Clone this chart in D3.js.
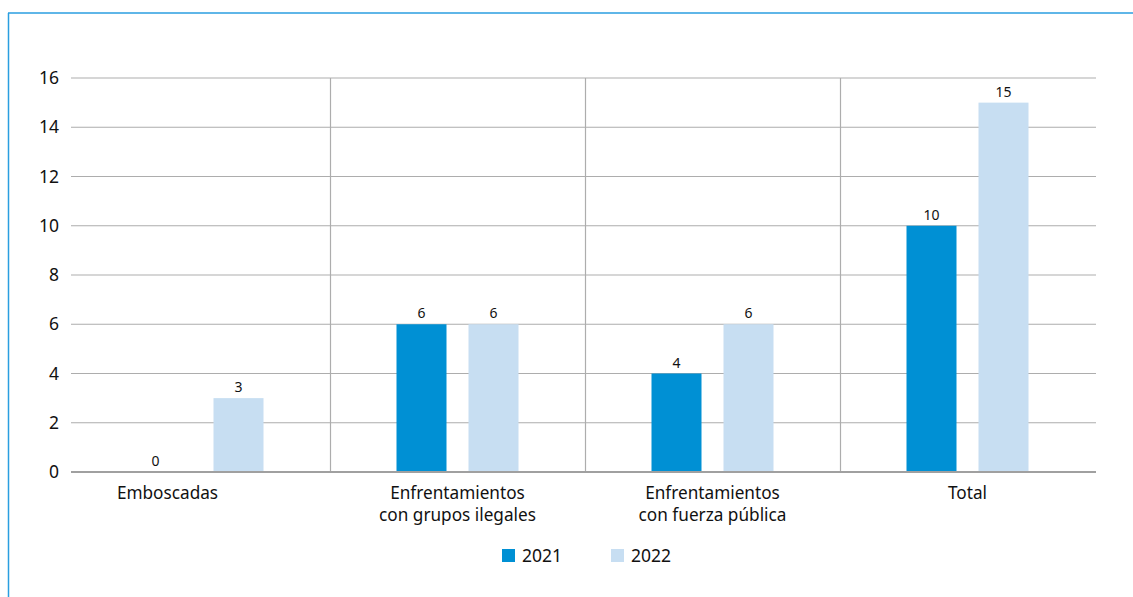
<!DOCTYPE html>
<html><head><meta charset="utf-8">
<script src="https://cdn.jsdelivr.net/npm/d3@7"></script>
<style>
html,body{margin:0;padding:0;background:#fff;}
svg{display:block;font-family:"Noto Sans","Open Sans",sans-serif;}
</style></head>
<body>
<svg id="chart" width="1133" height="597"></svg>
<script>
const categories = [["Emboscadas"], ["Enfrentamientos","con grupos ilegales"], ["Enfrentamientos","con fuerza pública"], ["Total"]];
const years = ["2021","2022"];
const values2021 = [0, 6, 4, 10];
const values2022 = [3, 6, 6, 15];
const yTicks = [0,2,4,6,8,10,12,14,16];
const colors = {"2021":"#0090d4","2022":"#c7def2"};

const svg = d3.select("#chart");
const m = {left:71, right:1096, top:78, bottom:472};

// frame
svg.append("line").attr("x1",8.5).attr("x2",8.5).attr("y1",13).attr("y2",597).attr("stroke","#2a9ee0").attr("stroke-width",1.5);
svg.append("line").attr("x1",8).attr("x2",1133).attr("y1",13).attr("y2",13).attr("stroke","#2a9ee0").attr("stroke-width",1.5);

const idx = d3.range(categories.length);
const x0 = d3.scaleBand().domain(idx).range([75, 1095]).paddingInner(0).paddingOuter(0);
const bw = x0.bandwidth();
const x1 = d3.scaleBand().domain(years).range([bw/2-61, bw/2+61]).paddingInner(22/72).paddingOuter(0);
const y = d3.scaleLinear().domain([0,16]).range([m.bottom, m.top]);

// gridlines
svg.append("g").selectAll("line").data(yTicks.filter(t=>t>0)).join("line")
  .attr("x1",m.left).attr("x2",m.right)
  .attr("y1",d=>y(d)).attr("y2",d=>y(d))
  .attr("stroke","#adadad").attr("stroke-width",1.2);

// category separators
svg.append("g").selectAll("line").data(idx.slice(1)).join("line")
  .attr("x1",d=>x0(d)+0.5).attr("x2",d=>x0(d)+0.5)
  .attr("y1",m.top).attr("y2",m.bottom)
  .attr("stroke","#adadad").attr("stroke-width",1.2);

// y axis labels
const yAxis = d3.axisLeft(y).tickValues(yTicks).tickSize(0).tickPadding(12);
const gy = svg.append("g").attr("transform",`translate(${m.left},0)`).call(yAxis);
gy.select(".domain").remove();
gy.selectAll("text").attr("font-size",17.5).attr("fill","#111").attr("font-family","Noto Sans, Open Sans, sans-serif");

// bars
const series = [{year:"2021", vals:values2021},{year:"2022", vals:values2022}];
const gb = svg.append("g");
series.forEach(s=>{
  gb.selectAll(null).data(s.vals).join("rect")
    .attr("x",(d,i)=>x0(i)+x1(s.year))
    .attr("width",x1.bandwidth())
    .attr("y",d=>y(d))
    .attr("height",d=>y(0)-y(d))
    .attr("fill",colors[s.year]);
  gb.selectAll(null).data(s.vals).join("text")
    .attr("x",(d,i)=>x0(i)+x1(s.year)+x1.bandwidth()/2 - (d===0?11:0))
    .attr("y",d=>y(d)-6)
    .attr("text-anchor","middle")
    .attr("font-size",14).attr("fill","#111")
    .text(d=>d);
});

// baseline
svg.append("line").attr("x1",m.left).attr("x2",m.right).attr("y1",y(0)).attr("y2",y(0))
  .attr("stroke","#a0a0a0").attr("stroke-width",2);

// category labels
const labelShift = [-35, 0, 0, 0];
const gc = svg.append("g");
categories.forEach((lines,i)=>{
  const cx = x0(i)+bw/2+labelShift[i];
  const t = gc.append("text").attr("x",cx).attr("y",499)
    .attr("text-anchor","middle").attr("font-size",17.2).attr("fill","#111");
  lines.forEach((l,j)=>t.append("tspan").attr("x",cx).attr("dy",j===0?0:22).text(l));
});

// legend
const legX = [502, 611];
years.forEach((yr,i)=>{
  svg.append("rect").attr("x",legX[i]).attr("y",549).attr("width",13).attr("height",13).attr("fill",colors[yr]);
  svg.append("text").attr("x",legX[i]+20).attr("y",562).attr("font-size",17.5).attr("fill","#111").text(yr);
});
</script>
</body></html>
